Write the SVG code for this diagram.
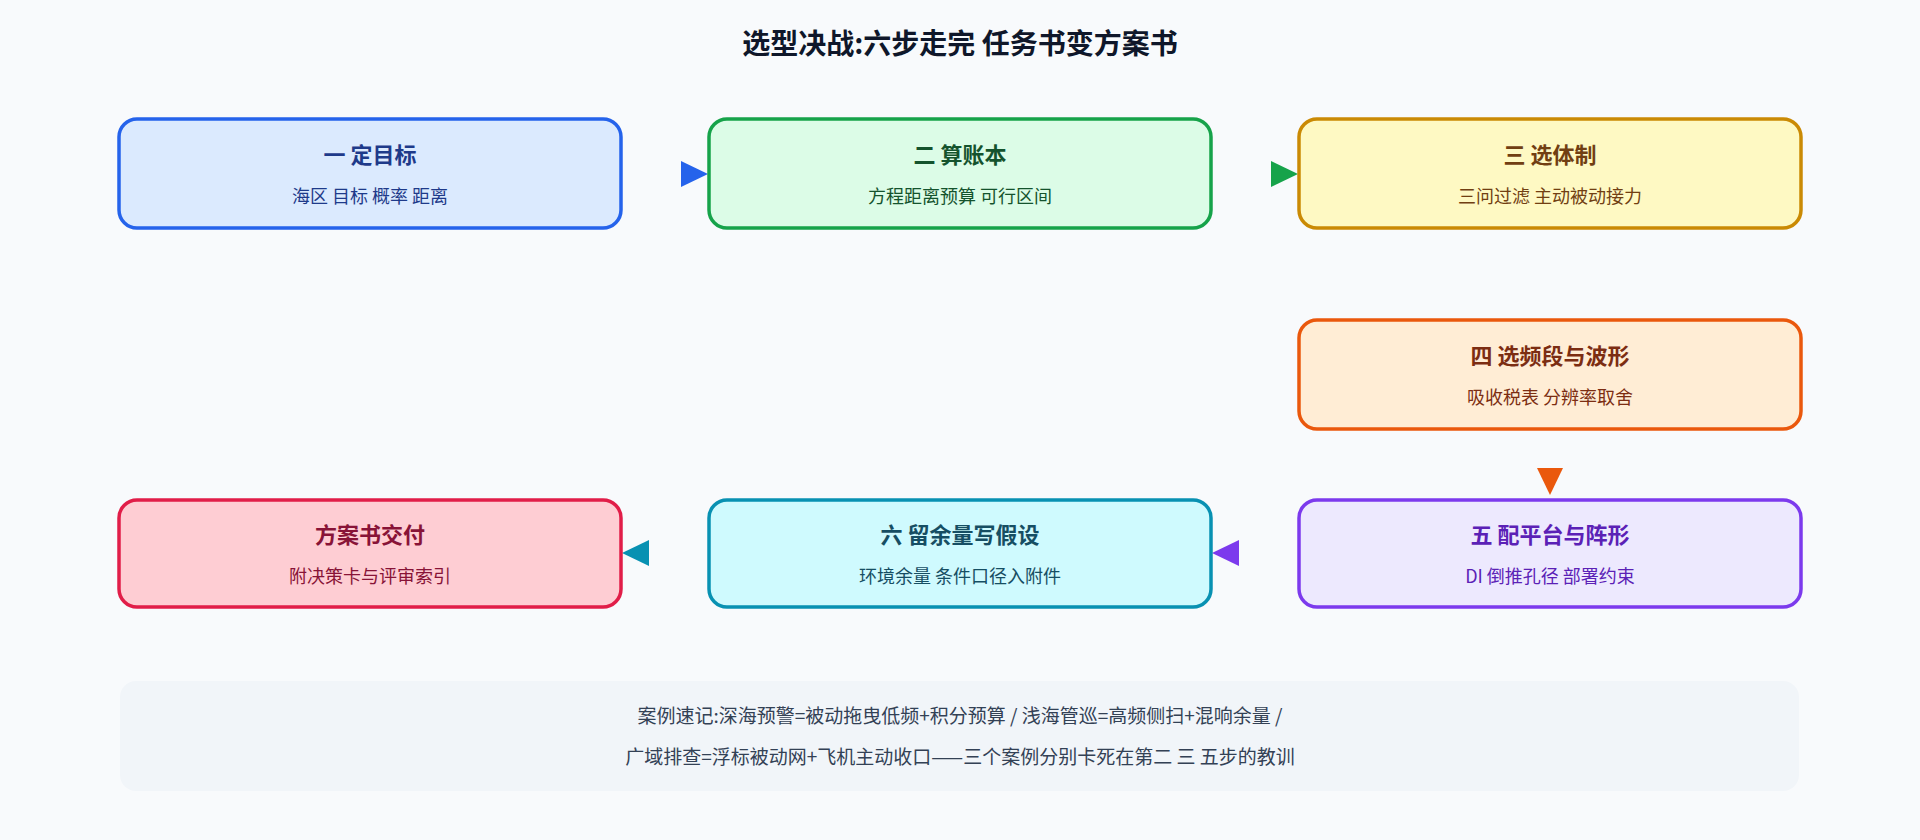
<svg xmlns="http://www.w3.org/2000/svg" width="1920" height="840" viewBox="0 0 1920 840">
<style>
text{font-family:"Noto Sans CJK SC","Noto Sans",sans-serif;text-anchor:middle}
.t{font-size:22px;font-weight:bold}
.s{font-size:18px}
.b{stroke-width:3.5}
</style>
<rect width="1920" height="840" fill="#f8fafc"/>
<text x="960" y="54" style="font-size:28px;font-weight:bold" fill="#0f172a">选型决战:六步走完 任务书变方案书</text>
<g id="connectors">
<polygon points="681,161 708,174 681,187" fill="#2563eb"/>
<polygon points="1271,161 1298,174 1271,187" fill="#16a34a"/>
<polygon points="1537,468 1563,468 1550,495" fill="#ea580c"/>
<polygon points="1239,540 1212,553 1239,566" fill="#7c3aed"/>
<polygon points="649,540 622,553 649,566" fill="#0891b2"/>
</g>
<g id="n1"><rect class="b" x="119" y="119" width="502" height="109" rx="18" fill="#dbeafe" stroke="#2563eb"/>
<text class="t" x="370" y="163" fill="#1e3a8a">一 定目标</text><text class="s" x="370" y="203" fill="#1e3a8a">海区 目标 概率 距离</text></g>
<g id="n2"><rect class="b" x="709" y="119" width="502" height="109" rx="18" fill="#dcfce7" stroke="#16a34a"/>
<text class="t" x="960" y="163" fill="#14532d">二 算账本</text><text class="s" x="960" y="203" fill="#14532d">方程距离预算 可行区间</text></g>
<g id="n3"><rect class="b" x="1299" y="119" width="502" height="109" rx="18" fill="#fef9c3" stroke="#ca8a04"/>
<text class="t" x="1550" y="163" fill="#713f12">三 选体制</text><text class="s" x="1550" y="203" fill="#713f12">三问过滤 主动被动接力</text></g>
<g id="n4"><rect class="b" x="1299" y="320" width="502" height="109" rx="18" fill="#ffedd5" stroke="#ea580c"/>
<text class="t" x="1550" y="364" fill="#7c2d12">四 选频段与波形</text><text class="s" x="1550" y="404" fill="#7c2d12">吸收税表 分辨率取舍</text></g>
<g id="n5"><rect class="b" x="1299" y="500" width="502" height="107" rx="18" fill="#ede9fe" stroke="#7c3aed"/>
<text class="t" x="1550" y="543" fill="#5b21b6">五 配平台与阵形</text><text class="s" x="1550" y="583" fill="#5b21b6">DI 倒推孔径 部署约束</text></g>
<g id="n6"><rect class="b" x="709" y="500" width="502" height="107" rx="18" fill="#cffafe" stroke="#0891b2"/>
<text class="t" x="960" y="543" fill="#164e63">六 留余量写假设</text><text class="s" x="960" y="583" fill="#164e63">环境余量 条件口径入附件</text></g>
<g id="n7"><rect class="b" x="119" y="500" width="502" height="107" rx="18" fill="#fecdd3" stroke="#e11d48"/>
<text class="t" x="370" y="543" fill="#881337">方案书交付</text><text class="s" x="370" y="583" fill="#881337">附决策卡与评审索引</text></g>
<g id="note"><rect x="120" y="681" width="1679" height="110" rx="16" fill="#f1f5f9"/>
<text x="960" y="723" style="font-size:19px" fill="#334155">案例速记:深海预警=被动拖曳低频+积分预算 / 浅海管巡=高频侧扫+混响余量 /</text>
<text x="960" y="764" style="font-size:19px" fill="#334155">广域排查=浮标被动网+飞机主动收口——三个案例分别卡死在第二 三 五步的教训</text></g>
</svg>
